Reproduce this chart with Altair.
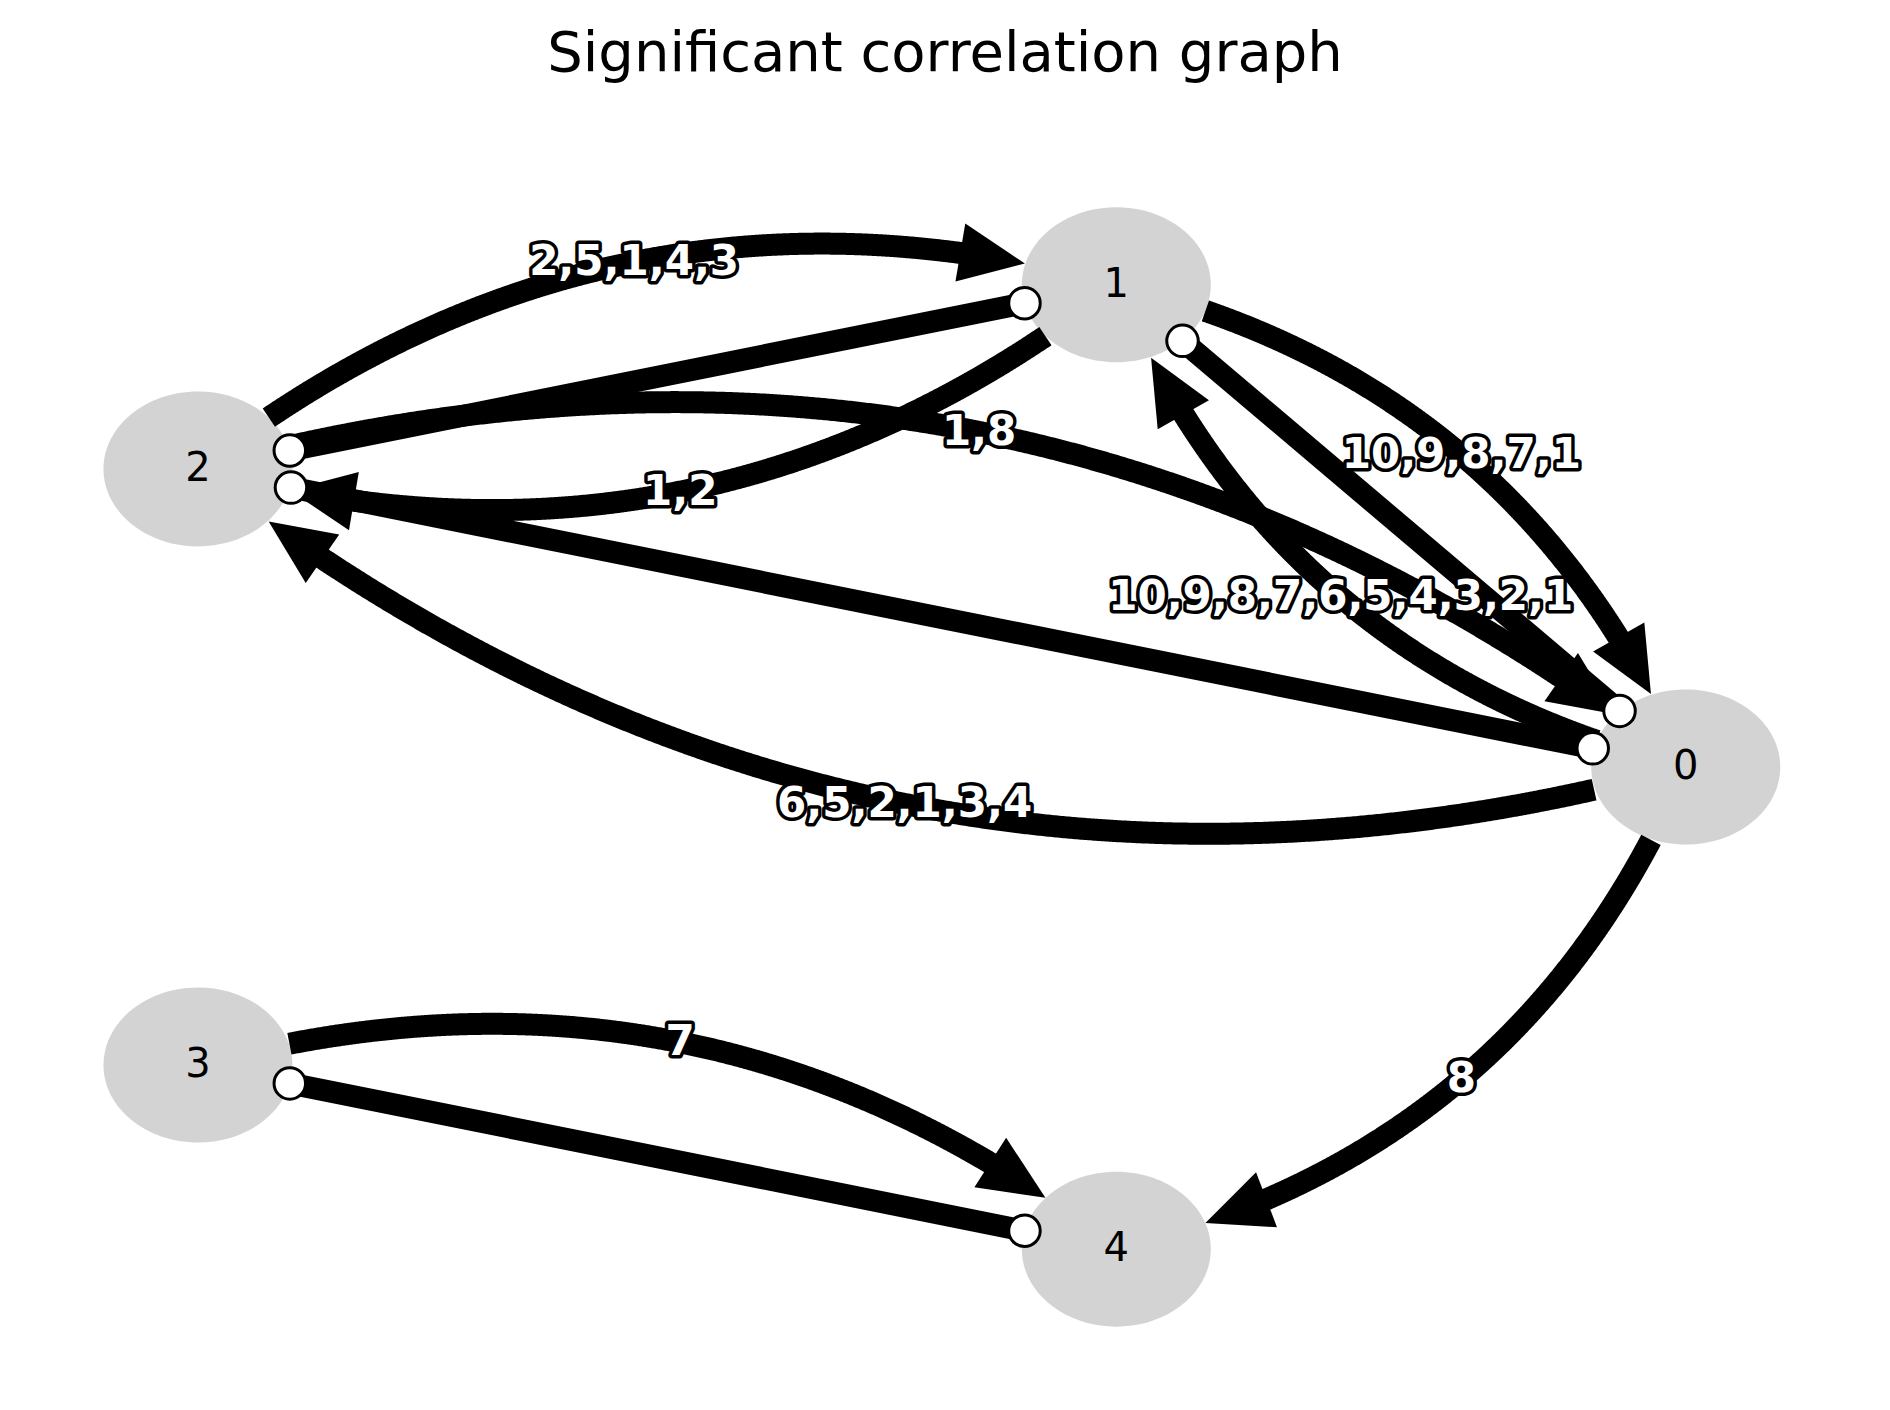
import altair as alt
import numpy as np
import pandas as pd

# node layout (in picture units)
node_names = ["0", "1", "2", "3", "4"]
node_x = [1398, 928, 170, 170, 928]
node_y = [638, 240, 392, 884, 1036]

# lagged links: source, target, lag labels
curve_src = [2, 1, 0, 1, 2, 0, 3, 0]
curve_dst = [1, 2, 1, 0, 0, 2, 4, 4]
curve_labels = ["2,5,1,4,3", "1,2", "10,9,8,7,6,5,4,3,2,1", "10,9,8,7,1",
                "1,8", "6,5,2,1,3,4", "7", "8"]

# contemporaneous links (open circles at both ends)
straight_a = [2, 0, 0, 3]
straight_b = [1, 2, 1, 4]

S = 1890 / 1560.0  # picture units -> pixels
RX, RY = 78, 64
RAD = -0.25
ARROW = 54


def inside(p, n):
    return ((p[0] - node_x[n]) / RX) ** 2 + ((p[1] - node_y[n]) / RY) ** 2 < 1


line_rows, arrow_rows, label_rows, dot_rows = [], [], [], []
t = np.linspace(0, 1, 801)
for k, (a, b) in enumerate(zip(curve_src, curve_dst)):
    x1, y1 = node_x[a], -node_y[a]
    x2, y2 = node_x[b], -node_y[b]
    dx, dy = x2 - x1, y2 - y1
    cx = (x1 + x2) / 2 + RAD * dy
    cy = (y1 + y2) / 2 - RAD * dx
    px = (1 - t) ** 2 * x1 + 2 * t * (1 - t) * cx + t ** 2 * x2
    py = -((1 - t) ** 2 * y1 + 2 * t * (1 - t) * cy + t ** 2 * y2)
    pts = list(zip(px, py))
    i0 = next(i for i, p in enumerate(pts) if not inside(p, a))
    i1 = max(i for i, p in enumerate(pts) if not inside(p, b))
    tip = np.array(pts[i1])
    # walk back along the curve by the arrow length
    j = i1
    while j > i0 and np.hypot(*(np.array(pts[j]) - tip)) < ARROW * 0.8:
        j -= 1
    for i in range(i0, j + 1):
        line_rows.append({"edge": k, "o": i, "x": pts[i][0], "y": pts[i][1]})
    back = np.array(pts[j])
    d = tip - back
    ang = np.degrees(np.arctan2(d[1], d[0])) % 360
    mid = tip - d / np.hypot(*d) * ARROW / 2
    arrow_rows.append({"x": mid[0], "y": mid[1], "angle": ang})
    label_rows.append({"x": px[400], "y": py[400], "label": curve_labels[k]})

for k, (a, b) in enumerate(zip(straight_a, straight_b)):
    p = np.array([node_x[a], node_y[a]], float)
    q = np.array([node_x[b], node_y[b]], float)
    ts = np.linspace(0, 1, 801)
    pts = [p + (q - p) * s for s in ts]
    i0 = next(i for i, r in enumerate(pts) if not inside(r, a))
    i1 = max(i for i, r in enumerate(pts) if not inside(r, b))
    for o, i in enumerate([i0, i1]):
        line_rows.append({"edge": 100 + k, "o": o, "x": pts[i][0], "y": pts[i][1]})
        dot_rows.append({"x": pts[i][0], "y": pts[i][1]})

nodes = pd.DataFrame({"name": node_names, "x": node_x, "y": node_y})
lines = pd.DataFrame(line_rows)
arrows = pd.DataFrame(arrow_rows)
labels = pd.DataFrame(label_rows)
dots = pd.DataFrame(dot_rows)

W, H = 1874, 1394
xs = alt.Scale(domain=[16 / S, (16 + W) / S], nice=False, zero=False)
ys = alt.Scale(domain=[14 / S, (14 + H) / S], nice=False, zero=False, reverse=True)
X = alt.X("x:Q", scale=xs, axis=None)
Y = alt.Y("y:Q", scale=ys, axis=None)

ellipse = "M -1 0 A 1 0.82 0 1 1 1 0 A 1 0.82 0 1 1 -1 0 Z"
node_layer = alt.Chart(nodes).mark_point(
    shape=ellipse, filled=True, color="#d3d3d3", opacity=1, size=(2 * RX * S) ** 2
).encode(x=X, y=Y)
node_text = alt.Chart(nodes).mark_text(
    font="DejaVu Sans", fontSize=40, color="black"
).encode(x=X, y=Y, text="name:N")

edge_layer = alt.Chart(lines).mark_line(
    color="black", strokeWidth=22, strokeCap="butt", strokeJoin="round"
).encode(x=X, y=Y, detail="edge:N", order="o:Q")

arrow_layer = alt.Chart(arrows).mark_point(
    shape="M 1 0 L -1 -0.9 L -1 0.9 Z", filled=True, color="black", opacity=1,
    size=(ARROW * S) ** 2
).encode(x=X, y=Y, angle=alt.Angle("angle:Q", scale=None))

dot_layer = alt.Chart(dots).mark_point(
    shape="circle", filled=True, fill="white", stroke="black", strokeWidth=3,
    opacity=1, size=(26 * S) ** 2
).encode(x=X, y=Y)

lab_outline = alt.Chart(labels).mark_text(
    font="DejaVu Sans", fontSize=42, fontWeight="bold", stroke="black",
    strokeWidth=7, color="black", strokeJoin="round"
).encode(x=X, y=Y, text="label:N")
lab_fill = alt.Chart(labels).mark_text(
    font="DejaVu Sans", fontSize=42, fontWeight="bold", color="white"
).encode(x=X, y=Y, text="label:N")

chart = alt.layer(
    node_layer, node_text, edge_layer, arrow_layer, dot_layer, lab_outline, lab_fill
).properties(
    width=W, height=H, padding=0,
    title=alt.TitleParams("Significant correlation graph", font="DejaVu Sans",
                          fontSize=56, fontWeight="normal", offset=-100, dy=-25)
).configure_view(stroke=None)

chart.save("out.html", embed_options={"renderer": "svg", "actions": False})
